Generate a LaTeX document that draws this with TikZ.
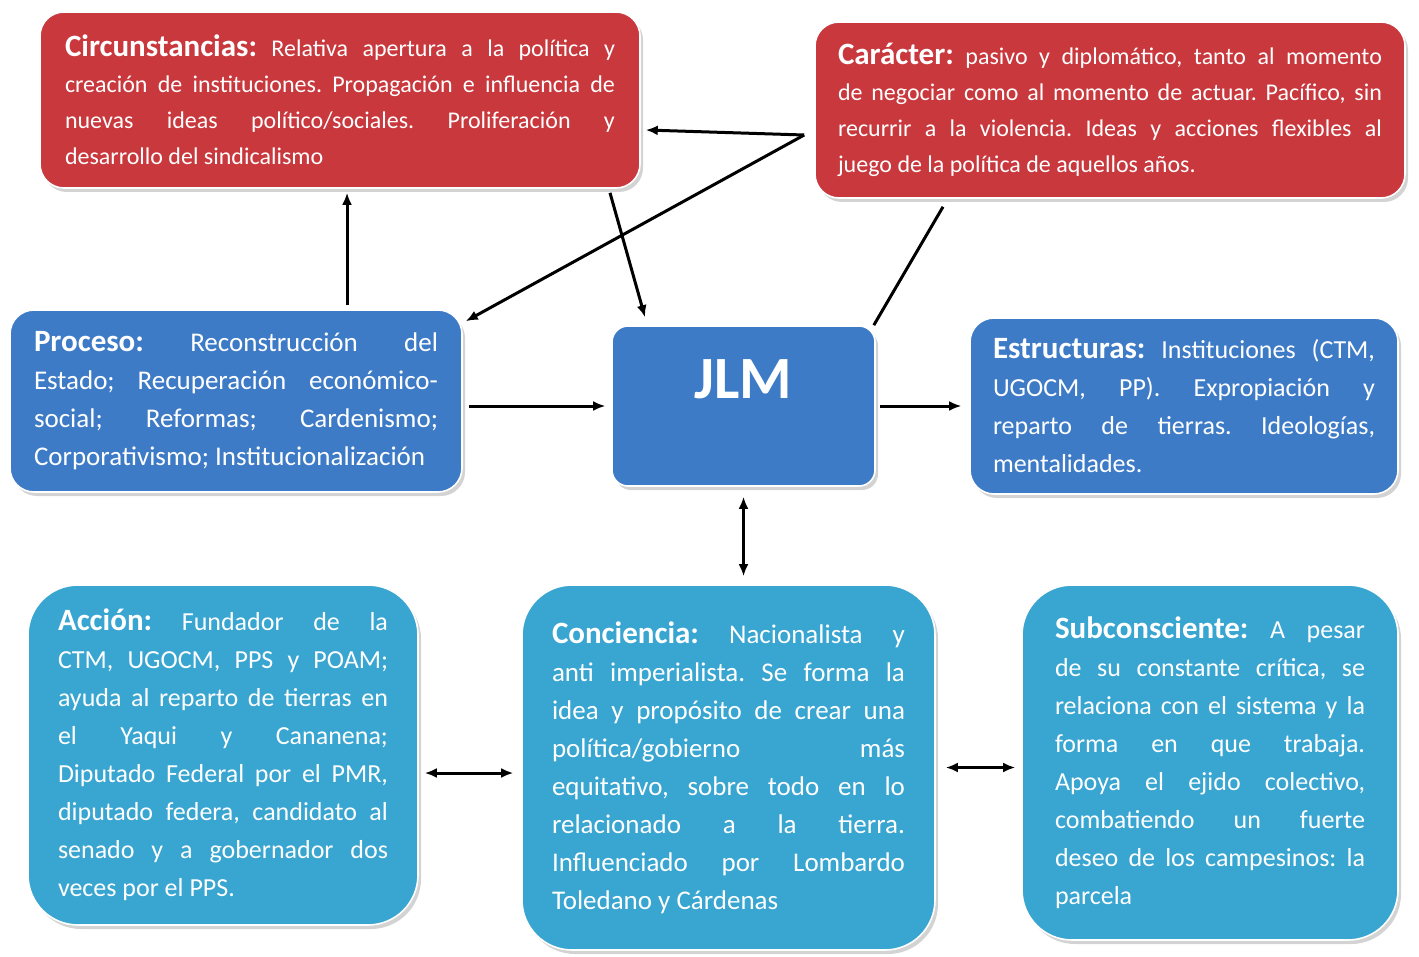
\documentclass[tikz,border=0pt]{standalone}
\usepackage{fontspec}
\setmainfont{Carlito}
\usetikzlibrary{shadows,arrows.meta}

\definecolor{rojo}{RGB}{200,56,61}
\definecolor{azul}{RGB}{62,123,199}
\definecolor{celeste}{RGB}{57,165,209}

\providecommand{\titulo}[1]{{\fontsize{15.5}{18}\selectfont\bfseries #1}}

\begin{document}
\frenchspacing
\begin{tikzpicture}[
    x=0.5pt, y=-0.5pt,
    >={Latex[length=6pt,width=5pt]}, line width=1.5pt,
    caja/.style={rectangle, draw=white, line width=0.8pt, text=white, align=justify, inner sep=0pt,
        drop shadow={shadow xshift=1.5pt, shadow yshift=-2pt, opacity=0.35}},
    cajaroja/.style={caja, fill=rojo, rounded corners=12pt, font=\fontsize{12}{18}\selectfont},
    cajaazul/.style={caja, fill=azul, rounded corners=12pt, font=\fontsize{13}{19}\selectfont},
    cajaceleste/.style={caja, fill=celeste, rounded corners=25pt, font=\fontsize{13}{19}\selectfont},
    cajajlm/.style={caja, fill=azul, rounded corners=8pt, align=center, minimum width=131.5pt, minimum height=80pt,
        text height=36pt, text depth=44pt, font=\fontsize{30}{30}\selectfont\bfseries}
]
    \useasboundingbox (0,0) rectangle (1419,957);

    % CAJAS SUPERIORES
    \node[cajaroja, minimum width=300pt, minimum height=88pt, text width=275pt] (circ) at (340,100)
        {\titulo{Circunstancias:} Relativa apertura a la política y\linebreak creación de instituciones. Propagación e influencia de\linebreak nuevas ideas político/sociales. Proliferación y\linebreak desarrollo del sindicalismo};
    \node[cajaroja, minimum width=295pt, minimum height=88pt, text width=272pt] (car) at (1110,110)
        {\titulo{Carácter:} pasivo y diplomático, tanto al momento\linebreak de negociar como al momento de actuar. Pacífico, sin\linebreak recurrir a la violencia. Ideas y acciones flexibles al\linebreak juego de la política de aquellos años.};

    % FILA CENTRAL
    \node[cajaazul, minimum width=226pt, minimum height=91pt, text width=202pt, font=\fontsize{13.5}{19}\selectfont] (proc) at (236,401)
        {\titulo{Proceso:} Reconstrucción del\linebreak Estado; Recuperación económico-\linebreak social; Reformas; Cardenismo;\linebreak Corporativismo; Institucionalización};
    \node[cajajlm] (jlm) at (743.5,406) {JLM};
    \node[cajaazul, minimum width=214pt, minimum height=88pt, text width=191pt] (est) at (1184,406)
        {\titulo{Estructuras:} Instituciones (CTM,\linebreak UGOCM, PP). Expropiación y\linebreak reparto de tierras. Ideologías,\linebreak mentalidades.};

    % CAJAS INFERIORES
    \node[cajaceleste, minimum width=195pt, minimum height=170pt, text width=165pt] (acc) at (223,755)
        {\titulo{Acción:} Fundador de la\linebreak CTM, UGOCM, PPS y POAM;\linebreak ayuda al reparto de tierras en\linebreak el Yaqui y Cananena;\linebreak Diputado Federal por el PMR,\linebreak diputado federa, candidato al\linebreak senado y a gobernador dos\linebreak veces por el PPS.};
    \node[cajaceleste, minimum width=206.5pt, minimum height=182.5pt, text width=176.5pt, font=\fontsize{13.5}{19}\selectfont] (conc) at (728.5,767.5)
        {\titulo{Conciencia:} Nacionalista y\linebreak anti imperialista. Se forma la\linebreak idea y propósito de crear una\linebreak política/gobierno más\linebreak equitativo, sobre todo en lo\linebreak relacionado a la tierra.\linebreak Influenciado por Lombardo\linebreak Toledano y Cárdenas};
    \node[cajaceleste, minimum width=188pt, minimum height=177.5pt, text width=155pt] (sub) at (1210,762.5)
        {\titulo{Subconsciente:} A pesar\linebreak de su constante crítica, se\linebreak relaciona con el sistema y la\linebreak forma en que trabaja.\linebreak Apoya el ejido colectivo,\linebreak combatiendo un fuerte\linebreak deseo de los campesinos: la\linebreak parcela};

    % CONECTORES
    \coordinate (p1) at ([shift={(111,-4)}]proc.north);
    \coordinate (c1) at ([shift={(-10,25)}]car.west);
    \coordinate (a1) at ([shift={(0,18)}]acc.east);

    \draw[->, shorten >=2pt] (p1) -- (p1 |- circ.south);
    \draw[->] (c1) -- ([shift={(5,30)}]circ.east);
    \draw[->] (c1) -- ([shift={(3,12)}]proc.north east);
    \draw[->] ([shift={(270,4)}]circ.south) -- ([shift={(-98.5,-8)}]jlm.north);
    \draw ([shift={(-167,8)}]car.south) -- ([shift={(-2,0)}]jlm.north east);
    \draw[->, shorten <=3pt, shorten >=3pt] (proc.east |- jlm.west) -- (jlm.west);
    \draw[->, shorten <=2pt, shorten >=4pt] (jlm.east) -- (est.west);
    \draw[<->, shorten <=5pt, shorten >=4pt] (jlm.south) -- (jlm.south |- conc.north);
    \draw[<->, shorten <=3pt, shorten >=4pt] (a1) -- (a1 -| conc.west);
    \draw[<->, shorten <=5pt, shorten >=3pt] (conc.east) -- (conc.east -| sub.west);

\end{tikzpicture}
\end{document}
